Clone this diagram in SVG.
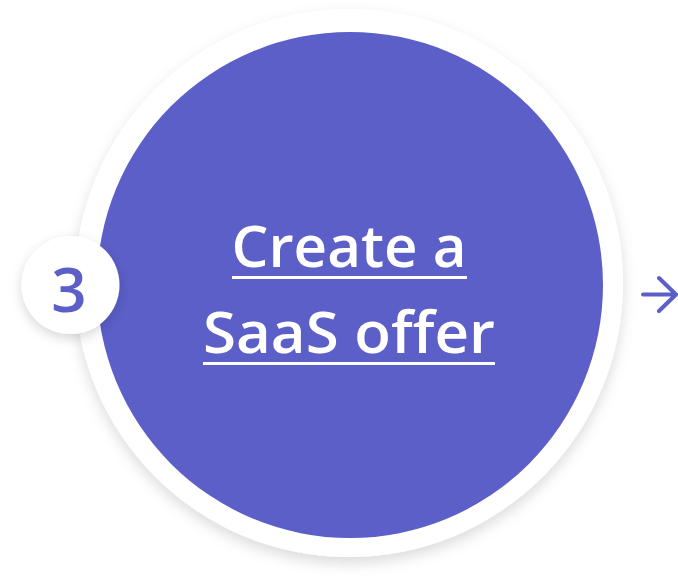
<svg xmlns="http://www.w3.org/2000/svg" width="678" height="584" viewBox="0 0 678 584">
  <defs>
    <filter id="softShadow" x="-20%" y="-20%" width="140%" height="140%">
      <feDropShadow dx="0" dy="6" stdDeviation="7" flood-color="#000" flood-opacity="0.14"/>
    </filter>
    <filter id="badgeShadow" x="-40%" y="-40%" width="180%" height="180%">
      <feDropShadow dx="0" dy="4" stdDeviation="6" flood-color="#000" flood-opacity="0.16"/>
    </filter>
  </defs>
  <style>
    .label { font-family: "Open Sans", "Noto Sans", "DejaVu Sans", sans-serif; fill: #ffffff; font-size: 58px; font-weight: 600; text-anchor: middle; }
    .uline { stroke: #ffffff; stroke-width: 3; }
    .num { font-family: "Open Sans", "Noto Sans", "DejaVu Sans", sans-serif; fill: #5B5FC7; font-size: 62px; font-weight: 600; text-anchor: middle; }
    .conn { stroke: #5B5FC7; stroke-width: 4; fill: none; stroke-linecap: round; stroke-linejoin: round; }
  </style>
  <rect width="678" height="584" fill="#ffffff"/>

  <g id="step-create-saas-offer">
    <circle cx="349" cy="283" r="274" fill="#ffffff" filter="url(#softShadow)"/>
    <circle cx="350" cy="285" r="253" fill="#5B5FC7"/>
    <text class="label" x="349" y="267" textLength="235" lengthAdjust="spacingAndGlyphs">Create a</text>
    <line class="uline" x1="232" y1="277.5" x2="467" y2="277.5"/>
    <text class="label" x="349" y="353" textLength="292" lengthAdjust="spacingAndGlyphs">SaaS offer</text>
    <line class="uline" x1="203" y1="363.5" x2="495" y2="363.5"/>
  </g>

  <g id="step-number">
    <circle cx="70.5" cy="285" r="49" fill="#ffffff" filter="url(#badgeShadow)"/>
    <text class="num" x="69" y="312">3</text>
  </g>

  <g id="connectors">
    <path class="conn" d="M643 294.5 H676 M659 278 L676 294.5 L659 311"/>
  </g>
</svg>
